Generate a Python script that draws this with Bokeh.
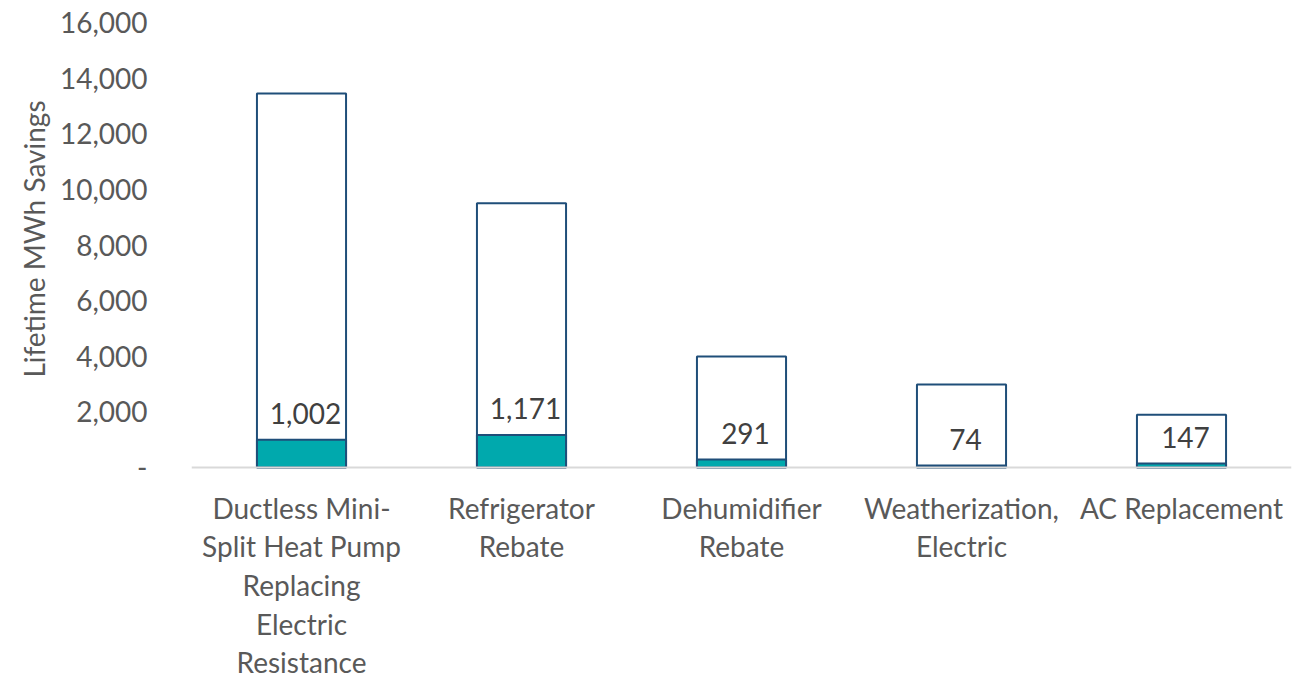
from bokeh.plotting import figure
from bokeh.models import (ColumnDataSource, FixedTicker, NumeralTickFormatter, Range1d,
                          FactorRange, LabelSet, Span, Title)
from bokeh.core.properties import value
from bokeh.embed import file_html
from bokeh.resources import INLINE

categories = ["Ductless Mini-Split Heat Pump Replacing Electric Resistance",
              "Refrigerator Rebate", "Dehumidifier Rebate",
              "Weatherization, Electric", "AC Replacement"]
category_lines = [["Ductless Mini-", "Split Heat Pump", "Replacing", "Electric", "Resistance"],
                  ["Refrigerator", "Rebate"], ["Dehumidifier", "Rebate"],
                  ["Weatherization,", "Electric"], ["AC Replacement"]]
lifetime_mwh = [13450, 9500, 3990, 2980, 1900]
annual_mwh = [1002, 1171, 291, 74, 147]
annual_labels = ["1,002", "1,171", "291", "74", "147"]
y_ticks = [0, 2000, 4000, 6000, 8000, 10000, 12000, 14000, 16000]
y_title = "Lifetime MWh Savings"

FONT = "Lato"
W, H = 1301, 678
LEFT, RIGHT, TOP = 191, 10, 22
PLOT_H = 445            # pixels between 0 and 16,000
Y_MAX = 16000
below_px = H - TOP - PLOT_H          # room under the baseline for category labels
y_min = -below_px * Y_MAX / PLOT_H

src = ColumnDataSource(dict(cat=categories, life=lifetime_mwh, ann=annual_mwh, lab=annual_labels))

# one row per category-label line
lx, ly, lt, lo = [], [], [], []
for c, lines in zip(categories, category_lines):
    for i, t in enumerate(lines):
        lx.append(c); ly.append(0); lt.append(t); lo.append(-(40 + 38.7 * i))
lsrc = ColumnDataSource(dict(x=lx, y=ly, t=lt, off=lo))

p = figure(x_range=FactorRange(*categories, range_padding=0), y_range=Range1d(y_min, Y_MAX),
           width=W, height=H, output_backend="svg", toolbar_location=None,
           min_border_left=LEFT, min_border_right=RIGHT, min_border_top=TOP, min_border_bottom=0)
p.outline_line_color = None
p.grid.grid_line_color = None
p.xaxis.visible = False

p.add_layout(Span(location=0, dimension="width", line_color="#d9d9d9", line_width=2))

p.vbar(x="cat", top="life", width=0.405, source=src, fill_color="white",
       line_color="#1f4e79", line_width=2)
p.vbar(x="cat", top="ann", width=0.405, source=src, fill_color="#00a9ad",
       line_color="#1f4e79", line_width=2)

p.add_layout(LabelSet(x="cat", y="ann", text="lab", source=src, text_align="center",
                      text_baseline="middle", x_offset=4, y_offset=26,
                      text_font=value(FONT), text_font_size="28px", text_color="#404040"))
p.add_layout(LabelSet(x="x", y="y", text="t", source=lsrc, text_align="center",
                      text_baseline="middle", y_offset="off",
                      text_font=value(FONT), text_font_size="28px", text_color="#595959"))

ya = p.yaxis[0]
ya.ticker = FixedTicker(ticks=y_ticks)
ya.formatter = NumeralTickFormatter(format="0,0")
ya.major_label_overrides = {0: "-"}
ya.axis_line_color = None
ya.major_tick_line_color = None
ya.minor_tick_line_color = None
ya.major_label_standoff = 38
ya.major_label_text_font = FONT
ya.major_label_text_font_size = "28px"
ya.major_label_text_color = "#595959"

# y-axis title placed along the 0..16,000 span (the frame extends below for the category labels)
p.add_layout(Title(text=y_title, align="right", offset=78, standoff=12,
                   text_font=FONT, text_font_size="28px", text_font_style="normal",
                   text_color="#595959"), "left")

open("out.html", "w").write(file_html(p, INLINE))
